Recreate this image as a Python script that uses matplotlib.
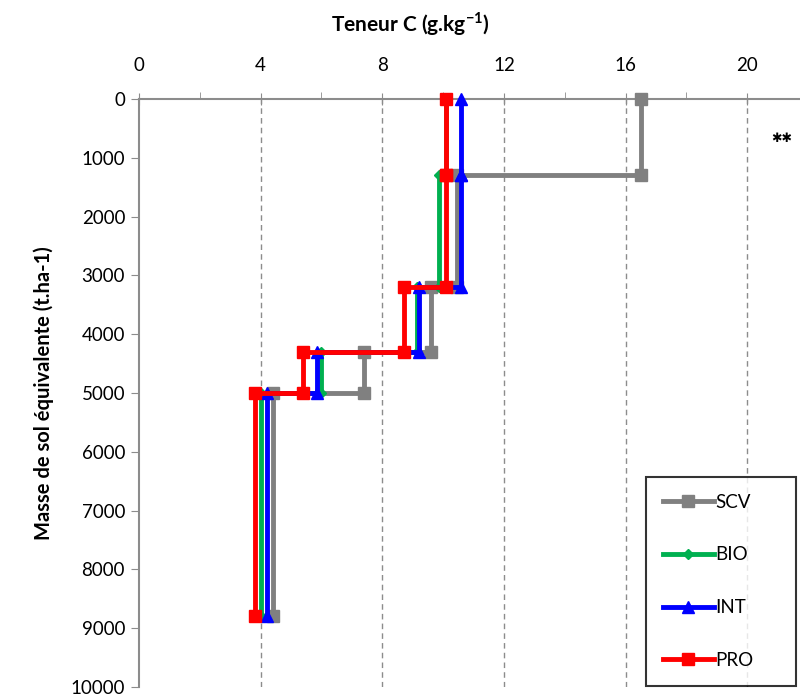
import matplotlib
matplotlib.use("Agg")
import matplotlib.pyplot as plt

# layer boundaries (t/ha) and carbon content per layer (g/kg)
depths = [0, 1300, 3200, 4300, 5000, 8800]
scv = [16.5, 10.45, 9.6, 7.4, 4.4]
bio = [10.1, 9.87, 9.13, 6.0, 4.0]
inte = [10.6, 10.6, 9.2, 5.85, 4.2]
pro = [10.1, 10.1, 8.7, 5.4, 3.8]

series = [
    ("SCV", scv, "#808080", "s", 8),
    ("BIO", bio, "#00B050", "D", 5),
    ("INT", inte, "#0000FF", "^", 9),
    ("PRO", pro, "#FF0000", "s", 9),
]


def step_points(vals):
    xs, ys = [], []
    for i, v in enumerate(vals):
        xs += [v, v]
        ys += [depths[i], depths[i + 1]]
    return xs, ys


plt.rcParams['font.family'] = ['Lato', 'DejaVu Sans']
plt.rcParams['mathtext.fontset'] = 'custom'
plt.rcParams['mathtext.rm'] = 'Lato'
plt.rcParams['mathtext.bf'] = 'Lato:bold'

fig = plt.figure(figsize=(8, 6.97), dpi=100)
ax = fig.add_axes([139 / 800, 1 - 687 / 697, (808 - 139) / 800, (687 - 99) / 697])

for name, vals, col, mk, ms in series:
    xs, ys = step_points(vals)
    ax.plot(xs, ys, color=col, lw=3.5, marker=mk, ms=ms, label=name,
            solid_joinstyle='miter', clip_on=False, zorder=3)

ax.set_xlim(0, 22)
ax.set_ylim(10000, 0)
ax.xaxis.tick_top()
ax.set_xticks([0, 4, 8, 12, 16, 20])
ax.set_xticks([2, 6, 10, 14, 18], minor=True)
ax.set_yticks(range(0, 10001, 1000))
ax.tick_params(axis='x', which='major', direction='inout', length=8, color='#8c8c8c',
               labelsize=13.5, pad=14)
ax.tick_params(axis='x', which='minor', direction='out', length=5, color='#8c8c8c')
ax.tick_params(axis='y', direction='out', length=6, color='#8c8c8c', labelsize=13.5, pad=4)
for s in ['right', 'bottom']:
    ax.spines[s].set_visible(False)
for s in ['top', 'left']:
    ax.spines[s].set_color('#8c8c8c')
    ax.spines[s].set_linewidth(1.5)

for g in [4, 8, 12, 16, 20]:
    ax.axvline(g, color='#8c8c8c', lw=1, ls=(0, (4, 3)), zorder=1)

fig.text(410 / 800, 1 - 24 / 697, r'Teneur C (g.kg$^{\mathbf{-1}}$)', ha='center', va='center',
         fontsize=15, fontweight='bold')
ax.set_ylabel('Masse de sol équivalente (t.ha-1)', fontsize=14.5, fontweight='bold', labelpad=12)

fig.text(782 / 800, 1 - 138 / 697, '✱✱', ha='center', va='center', fontsize=9,
         family='DejaVu Sans')

leg = fig.legend(loc='upper left', bbox_to_anchor=(646 / 800, 1 - 695 / 697, 150 / 800, 218 / 697),
                 mode='expand', frameon=True,
                 fancybox=False, edgecolor='black', fontsize=13.5, labelspacing=1.9,
                 handlelength=2.7, handletextpad=0.1, borderpad=0.9, borderaxespad=0)
leg.get_frame().set_linewidth(1.5)

fig.savefig('out.png', dpi=100)
